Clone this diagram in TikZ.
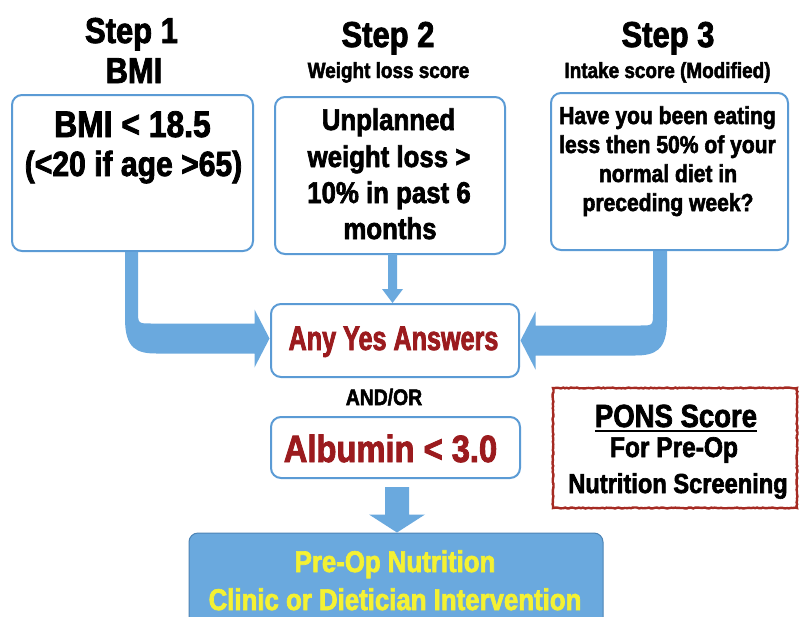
\documentclass[tikz,border=0pt]{standalone}
\usepackage{fontspec}
\newfontfamily\imp{Liberation Sans}[FakeStretch=0.86,FakeBold=2.2]
\newfontfamily\impn{Liberation Sans}[FakeStretch=0.74,FakeBold=2.2]
\usetikzlibrary{calc,decorations.pathmorphing}
\definecolor{boxblue}{HTML}{5B9BD5}
\definecolor{arrowblue}{HTML}{6AA9DE}
\definecolor{darkred}{HTML}{9B1B1E}
\definecolor{yel}{HTML}{F4F133}
\definecolor{ponsred}{HTML}{A52A22}
\begin{document}
\begin{tikzpicture}[x=1pt,y=-1pt,
  bx/.style={draw=boxblue, line width=2pt, rounded corners=10pt, fill=white, inner sep=0pt, outer sep=0pt},
  txt/.style={anchor=base, inner sep=0pt, outer sep=0pt},
  fs/.style={font=\imp\bfseries\fontsize{#1}{#1}\selectfont},
  fsn/.style={font=\impn\bfseries\fontsize{#1}{#1}\selectfont},
  arrowfill/.style={fill=arrowblue, draw=none}]
\clip (0,0) rectangle (800,616);
\fill[white] (0,0) rectangle (800,616);

% boxes
\node[bx, minimum width=241pt, minimum height=156pt] (b1) at (132.5,173) {};
\node[bx, minimum width=230pt, minimum height=157pt] (b2) at (390,175.5) {};
\node[bx, minimum width=237pt, minimum height=157pt] (b3) at (669.5,171.5) {};
\node[bx, minimum width=248pt, minimum height=73pt] (any) at (395,340.5) {};
\node[bx, minimum width=249pt, minimum height=61pt] (alb) at (395.5,447.5) {};
\node[draw=ponsred, line width=2.4pt, fill=white, inner sep=0pt, minimum width=244pt, minimum height=120pt,
      decorate, decoration={random steps, segment length=2pt, amplitude=0.5pt}] (pons) at (675,448) {};
\node[draw=boxblue!85!black, line width=1pt, fill=arrowblue, rounded corners=9pt, inner sep=0pt,
      minimum width=414pt, minimum height=117pt] (bot) at (396,591.5) {};

% titles
\node[txt, fs=36] (s1) at (131.5,43) {Step 1};
\node[txt, fs=36] (s1b) at (134,83) {BMI};
\node[txt, fs=36] (s2) at (388,47) {Step 2};
\node[txt, fs=22] (s2b) at (388.5,78) {Weight loss score};
\node[txt, fs=36] (s3) at (668,47) {Step 3};
\node[txt, fs=22] (s3b) at (667.5,78) {Intake score (Modified)};

% box 1 text
\node[txt, fs=37] (t1a) at (132.5,137) {BMI < 18.5};
\node[txt, fs=35] (t1b) at (133.5,176) {(<20 if age >65)};
% box 2 text
\node[txt, fs=30] (t2a) at (388.5,130) {Unplanned};
\node[txt, fs=30] (t2b) at (389,167) {weight loss >};
\node[txt, fs=30] (t2c) at (389,203) {10\% in past 6};
\node[txt, fs=30] (t2d) at (390,239) {months};
% box 3 text
\node[txt, fs=24.5] (t3a) at (667.5,124) {Have you been eating};
\node[txt, fs=24.5] (t3b) at (667.5,153) {less then 50\% of your};
\node[txt, fs=24.5] (t3c) at (668,182) {normal diet in};
\node[txt, fs=24.5] (t3d) at (668,211) {preceding week?};

\node[txt, fsn=34, text=darkred] (tany) at (393.5,350) {Any Yes Answers};
\node[txt, fs=22.5] (andor) at (384,405) {AND/OR};
\node[txt, fs=38, text=darkred] (talb) at (390.5,462) {Albumin < 3.0};

\node[txt, fs=32] (p1) at (676,427) {PONS Score};
\draw[line width=2pt] ($(p1.base west)+(0,4)$) -- ($(p1.base east)+(0,4)$);
\node[txt, fs=28.5] (p2) at (674,457) {For Pre-Op};
\node[txt, fs=27.5] (p3) at (678,493) {Nutrition Screening};

\node[txt, fs=30, text=yel] (r1) at (395,572) {Pre-Op Nutrition};
\node[txt, fs=30, text=yel] (r2) at (395,610) {Clinic or Dietician Intervention};

% middle arrow
\coordinate (m1) at ($(b2.south)+(2.5,0)$);
\coordinate (m2) at ($(m1 |- any.north)+(0,-1)$);
\fill[arrowfill] ($(m1)+(-4.5,0)$) -- ($(m2)+(-4.5,-14)$) -- ($(m2)+(-10.5,-14)$) -- (m2)
  -- ($(m2)+(10.5,-14)$) -- ($(m2)+(4.5,-14)$) -- ($(m1)+(4.5,0)$) -- cycle;

% left bent arrow
\coordinate (s) at ($(b1.south)+(-1,1)$);
\coordinate (t) at ($(any.west)+(-1.5,-2)$);
\coordinate (c) at (t -| s);
\fill[arrowfill] ($(s)+(-6.5,0)$) -- ($(c)+(-6.5,-20)$)
  .. controls ($(c)+(-6.5,10)$) and ($(c)+(5,15)$) .. ($(c)+(25,15)$)
  -- ($(t)+(-15,15)$) -- ($(t)+(-15,29)$) -- (t) -- ($(t)+(-15,-29)$) -- ($(t)+(-15,-15)$)
  -- ($(c)+(20,-15)$) .. controls ($(c)+(6.5,-15)$) .. ($(c)+(6.5,-28)$)
  -- ($(s)+(6.5,0)$) -- cycle;

% right bent arrow
\coordinate (s3) at ($(b3.south)+(-9.5,1)$);
\coordinate (t3) at ($(any.east)+(1.5,0)$);
\coordinate (c3) at (t3 -| s3);
\fill[arrowfill] ($(s3)+(7,0)$) -- ($(c3)+(7,-20)$)
  .. controls ($(c3)+(7,10)$) and ($(c3)+(-5,15)$) .. ($(c3)+(-25,15)$)
  -- ($(t3)+(15,15)$) -- ($(t3)+(15,29)$) -- (t3) -- ($(t3)+(15,-29)$) -- ($(t3)+(15,-15)$)
  -- ($(c3)+(-20,-15)$) .. controls ($(c3)+(-7,-15)$) .. ($(c3)+(-7,-28)$)
  -- ($(s3)+(-7,0)$) -- cycle;

% bottom arrow
\coordinate (s4) at ($(alb.south)+(1.5,9)$);
\coordinate (t4) at ($(s4 |- bot.north)$);
\fill[arrowfill] ($(s4)+(-12,0)$) -- ($(t4)+(-12,-18)$) -- ($(t4)+(-28,-18)$) -- (t4)
  -- ($(t4)+(28,-18)$) -- ($(t4)+(12,-18)$) -- ($(s4)+(12,0)$) -- cycle;
\end{tikzpicture}
\end{document}
